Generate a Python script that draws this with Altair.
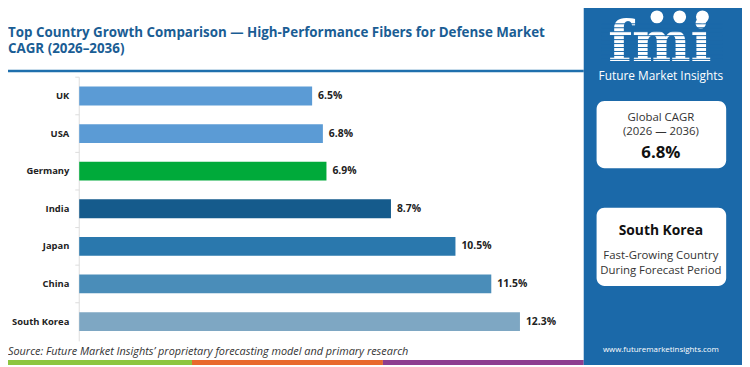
import altair as alt
import pandas as pd

countries = ["UK", "USA", "Germany", "India", "Japan", "China", "South Korea"]
cagr = [6.5, 6.8, 6.9, 8.7, 10.5, 11.5, 12.3]
bar_colors = ["#5b9bd5", "#5b9bd5", "#00aa3a", "#155b8c", "#2a78ad", "#4a8db9", "#7ea7c3"]

title_lines = ["Top Country Growth Comparison \u2014 High-Performance Fibers for Defense Market",
               "CAGR (2026\u20132036)"]
source_text = "Source: Future Market Insights\u2019 proprietary forecasting model and primary research"
global_cagr = "6.8%"
fastest = "South Korea"

W, H = 742, 359
PANEL = "#1b69a9"
FONT = "Open Sans"

df = pd.DataFrame({
    "country": countries,
    "cagr": cagr,
    "color": bar_colors,
    "label": [f"{v:.1f}%" for v in cagr],
})

xs = alt.Scale(domain=[0, 13.5], range=[72, 561])
ys = alt.Scale(domain=countries, range=[68, 334], paddingInner=0.5, paddingOuter=0.25)
X = alt.X("cagr:Q", scale=xs, axis=None)
Y = alt.Y("country:N", scale=ys, axis=None, sort=countries)

one = pd.DataFrame({"a": [0]})


def rect(x, x2, y, y2, color, r=0):
    return alt.Chart(one).mark_rect(color=color, cornerRadius=r).encode(
        x=alt.value(x), x2=alt.value(x2), y=alt.value(y), y2=alt.value(y2))


def txt(t, x, y, size, color="#333333", weight="normal", align="center", style="normal",
        font=FONT, baseline="middle"):
    return alt.Chart(one).mark_text(text=t, fontSize=size, color=color, fontWeight=weight,
                                    align=align, baseline=baseline, fontStyle=style, font=font).encode(
        x=alt.value(x), y=alt.value(y))


bars = alt.Chart(df).mark_bar().encode(
    x=alt.X("zero:Q", scale=xs, axis=None), x2="cagr:Q", y=Y,
    color=alt.Color("color:N", scale=None)
).transform_calculate(zero="0")

values = alt.Chart(df).mark_text(align="left", baseline="middle", dx=6, fontSize=10.5,
                                 fontWeight="bold", color="#222222", font=FONT).encode(
    x=X, y=Y, text="label:N")

cats = alt.Chart(df).mark_text(align="right", baseline="middle", fontSize=9.5,
                               fontWeight="bold", color="#222222", font=FONT).encode(
    x=alt.value(62), y=Y, text="country:N")

ticks = alt.Chart(df).mark_rule(color="#dddddd", yOffset=-9.5).encode(
    x=alt.value(68), x2=alt.value(72), y=alt.Y("country:N", scale=ys, axis=None, sort=countries, bandPosition=0))

axis_line = alt.Chart(one).mark_rule(color="#dddddd").encode(
    x=alt.value(72), y=alt.value(68), y2=alt.value(335))

header_line = rect(-8, 582, 60.5, 63, "#1f6fad")

layers = [
    header_line,
    txt(title_lines[0], 0, 23, 13.5, color="#1a5d94", weight="bold", align="left"),
    txt(title_lines[1], 0, 40, 13.5, color="#1a5d94", weight="bold", align="left"),
    axis_line, ticks, bars, values, cats,
    txt(source_text, 0, 346, 11, color="#333333", align="left", style="italic"),
    rect(-8, 186, 354, 359, "#8dc63f"),
    rect(186, 379, 354, 359, "#e8692d"),
    rect(379, 582, 354, 359, "#8e3d8f"),
    rect(582, 742, -8, 359, PANEL),
]

# logo
layers.append(txt("fmi", 659, 52, 56, color="white", weight="bold", font="DejaVu Serif",
                  baseline="alphabetic"))
for i in range(10):
    yy = 14 + 4 * i
    layers.append(alt.Chart(one).mark_rule(color=PANEL, strokeWidth=1).encode(
        x=alt.value(600), x2=alt.value(722), y=alt.value(yy)))
for cx in [656, 679, 702]:
    layers.append(alt.Chart(one).mark_point(filled=True, color="white", opacity=1, size=170).encode(
        x=alt.value(cx), y=alt.value(7)))
layers.append(txt("Future Market Insights", 660, 67, 12, color="white"))

# info boxes
layers += [
    rect(595, 726, 92, 160, "white", 8),
    txt("Global CAGR", 660, 109, 11.5),
    txt("(2026 \u2014 2036)", 660, 123, 11.5),
    txt(global_cagr, 660, 145, 17, color="#111111", weight="bold"),
    rect(595, 726, 200, 279, "white", 8),
    txt(fastest, 660, 224, 14, color="#111111", weight="bold"),
    txt("Fast-Growing Country", 660, 249, 11.5),
    txt("During Forecast Period", 660, 264, 11.5),
    txt("www.futuremarketinsights.com", 660, 344, 8, color="white"),
]

chart = alt.layer(*layers).properties(
    width=W, height=H, autosize=alt.AutoSizeParams(type="none"), padding=0
).configure_view(stroke=None)

chart.save("out.html", embed_options={"renderer": "svg", "actions": False})
